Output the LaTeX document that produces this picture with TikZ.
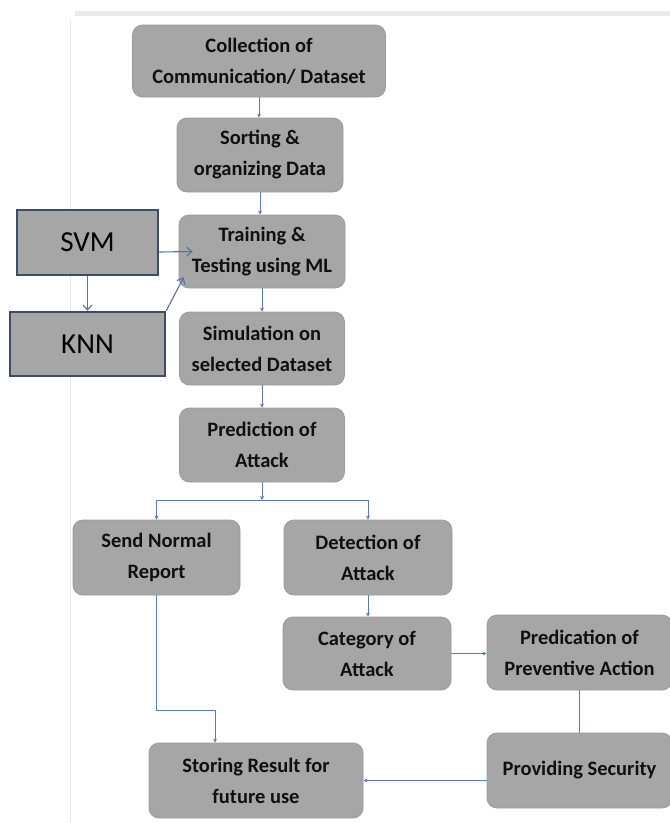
\documentclass[tikz,border=0pt]{standalone}
\usepackage{fontspec}
\setmainfont{Carlito}
\usetikzlibrary{arrows.meta}
\definecolor{boxgray}{HTML}{A6A6A6}
\definecolor{boxedge}{HTML}{9A9A9A}
\definecolor{linkblue}{HTML}{5A7BC4}
\definecolor{mlblue}{HTML}{5670A6}
\definecolor{mledge}{HTML}{3E4C6A}
\definecolor{txt}{HTML}{101010}
\begin{document}
\begin{tikzpicture}[x=1pt,y=-1pt,
  flow/.style={rectangle, rounded corners=10pt, fill=boxgray, draw=boxedge, line width=0.8pt,
    align=center, text=txt, inner sep=0pt, font=\bfseries\fontsize{20.5}{31}\selectfont},
  mlbox/.style={rectangle, fill=boxgray, draw=mledge, line width=2.5pt, inner sep=0pt,
    text=black, font=\fontsize{29}{34}\selectfont},
  link/.style={draw=linkblue, line width=0.8pt},
  tip/.style={-{Stealth[length=4pt,width=4pt]}},
  mllink/.style={draw=mlblue, line width=1.1pt, -{Straight Barb[length=5pt,width=9pt]}}]
\useasboundingbox (0,0) rectangle (670,823);
\fill[white] (0,0) rectangle (670,823);
% page decoration
\draw[black!8, line width=5pt] (75,13) -- (670,13);
\draw[black!10, line width=1pt] (70,20) -- (70,823);
% flow nodes
\node[flow, minimum width=253pt, minimum height=72pt] (coll) at (259,61) {Collection of\\Communication/ Dataset};
\node[flow, minimum width=166pt, minimum height=74pt] (sort) at (260,155) {Sorting \&\\organizing Data};
\node[flow, minimum width=166pt, minimum height=73pt] (train) at (262,251.5) {Training \&\\Testing using ML};
\node[flow, minimum width=165pt, minimum height=73pt] (sim) at (262,348.5) {Simulation on\\selected Dataset};
\node[flow, minimum width=165pt, minimum height=74pt] (pred) at (262,445) {Prediction of\\Attack};
\node[flow, minimum width=167pt, minimum height=75pt] (send) at (156.5,557.5) {Send Normal\\Report};
\node[flow, minimum width=168pt, minimum height=75pt] (detect) at (368,557.5) {Detection of\\Attack};
\node[flow, minimum width=168pt, minimum height=73pt] (cat) at (367,653.5) {Category of\\Attack};
\node[flow, minimum width=185pt, minimum height=75pt] (predic) at (579.5,652.5) {Predication of\\Preventive Action};
\node[flow, minimum width=185pt, minimum height=75pt] (prov) at (579.5,770.5) {Providing Security};
\node[flow, minimum width=214pt, minimum height=75pt] (stor) at (256,780.5) {Storing Result for\\future use};
% ML nodes
\node[mlbox, minimum width=141pt, minimum height=65pt] (svm) at (87.5,242.5) {SVM};
\node[mlbox, minimum width=155pt, minimum height=64pt] (knn) at (87.5,344) {KNN};
% connectors
\draw[link,tip] (coll.south) -- (coll.south |- sort.north);
\draw[link,tip] (sort.south) -- (sort.south |- train.north);
\draw[link,tip] (train.south) -- (sim.north);
\draw[link,tip] (sim.south) -- (pred.north);
\coordinate (br) at (262,500);
\draw[link,tip] (pred.south) -- (br);
\draw[link] (send.north |- br) -- (detect.north |- br);
\draw[link,tip] (send.north |- br) -- (send.north);
\draw[link,tip] (detect.north |- br) -- (detect.north);
\draw[link,tip] (detect.south) -- (detect.south |- cat.north);
\draw[link,tip] (cat.east) -- (predic.west |- cat.east);
\draw[link] (predic.south) -- (prov.north);
\draw[link,tip] (prov.west |- stor.east) -- (stor.east);
\coordinate (bend) at (215,710);
\draw[link,tip] (send.south) |- (bend) -- (bend |- stor.north);
\draw[mllink] ([yshift=-9.5pt]svm.east) -- ([xshift=14pt]train.west);
\draw[mllink] (svm.south) -- (knn.north);
\draw[mllink] (knn.north east) -- ([xshift=5pt,yshift=11pt]train.south west);
\end{tikzpicture}
\end{document}
